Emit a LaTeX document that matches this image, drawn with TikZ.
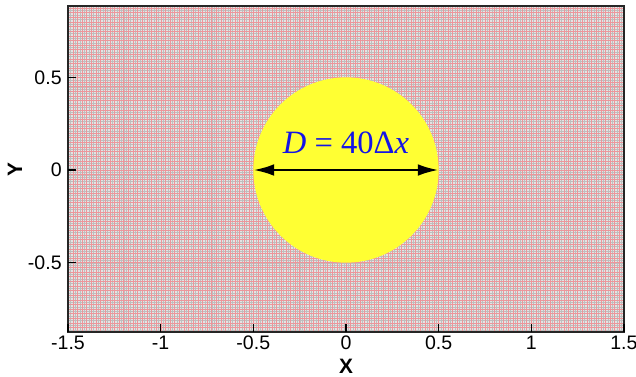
\documentclass[tikz,border=0pt]{standalone}
\usepackage{fontspec}
\usetikzlibrary{arrows.meta}
\setmainfont{Liberation Sans}
\newfontfamily\timesfont{Liberation Serif}
\definecolor{meshback}{RGB}{228,228,228}
\definecolor{meshgray}{RGB}{190,190,190}
\definecolor{meshred}{RGB}{236,150,155}
\definecolor{dropyellow}{RGB}{255,255,51}
\definecolor{labelblue}{RGB}{20,20,230}
\tikzset{
  ticklabel/.style={font=\fontsize{15}{17}\selectfont, inner sep=0pt},
  axislabel/.style={font=\fontsize{16}{18}\selectfont\bfseries, inner sep=0pt},
}
\begin{document}
\begin{tikzpicture}[x=5cm,y=5cm,>=latex]
\useasboundingbox (-1.867,-1.1117) rectangle (1.565,0.9174);
% mesh
\fill[meshback] (-1.5,-0.875) rectangle (1.5,0.885);
\draw[meshgray, line width=0.2pt, step=0.0125] (-1.5,-0.875) grid (1.5,0.885);
\draw[meshred, line width=0.25pt, step=0.025] (-1.5,-0.875) grid (1.5,0.885);
% droplet
\fill[dropyellow] (0,0) circle (0.5);
\coordinate (west) at (-0.5,0);
\coordinate (east) at (0.5,0);
\draw[line width=2pt, -{Latex[length=16pt,width=9pt]}] (0,0) -- (east);
\draw[line width=2pt, -{Latex[length=16pt,width=9pt]}] (0,0) -- (west);
\node[text=labelblue, font=\timesfont\fontsize{25}{28}\selectfont, inner sep=0pt] (dlabel) at (0,0.145) {\textit{D} = 40Δ\textit{x}};
% frame and ticks
\draw[line width=1.6pt, black!85] (-1.5,-0.875) rectangle (1.5,0.885);
\foreach \x in {-1.5,-1,...,1.5}
  \draw[line width=1pt] (\x,-0.875) -- (\x,-0.832);
\foreach \y in {-0.5,0,0.5}
  \draw[line width=1pt] (-1.5,\y) -- (-1.457,\y);
\foreach \x/\t in {-1.5/-1.5,-1/-1,-0.5/-0.5,0/0,0.5/0.5,1/1,1.5/1.5}
  \node[ticklabel] (xt\t) at (\x,-0.934) {\t};
\foreach \y/\t in {-0.5/-0.5,0/0,0.5/0.5}
  \node[ticklabel, anchor=east] (yt\t) at (-1.533,\y) {\t};
\node[axislabel] (xname) at (0,-1.058) {X};
\node[axislabel, rotate=90] (yname) at (-1.786,0) {Y};
\end{tikzpicture}
\end{document}
